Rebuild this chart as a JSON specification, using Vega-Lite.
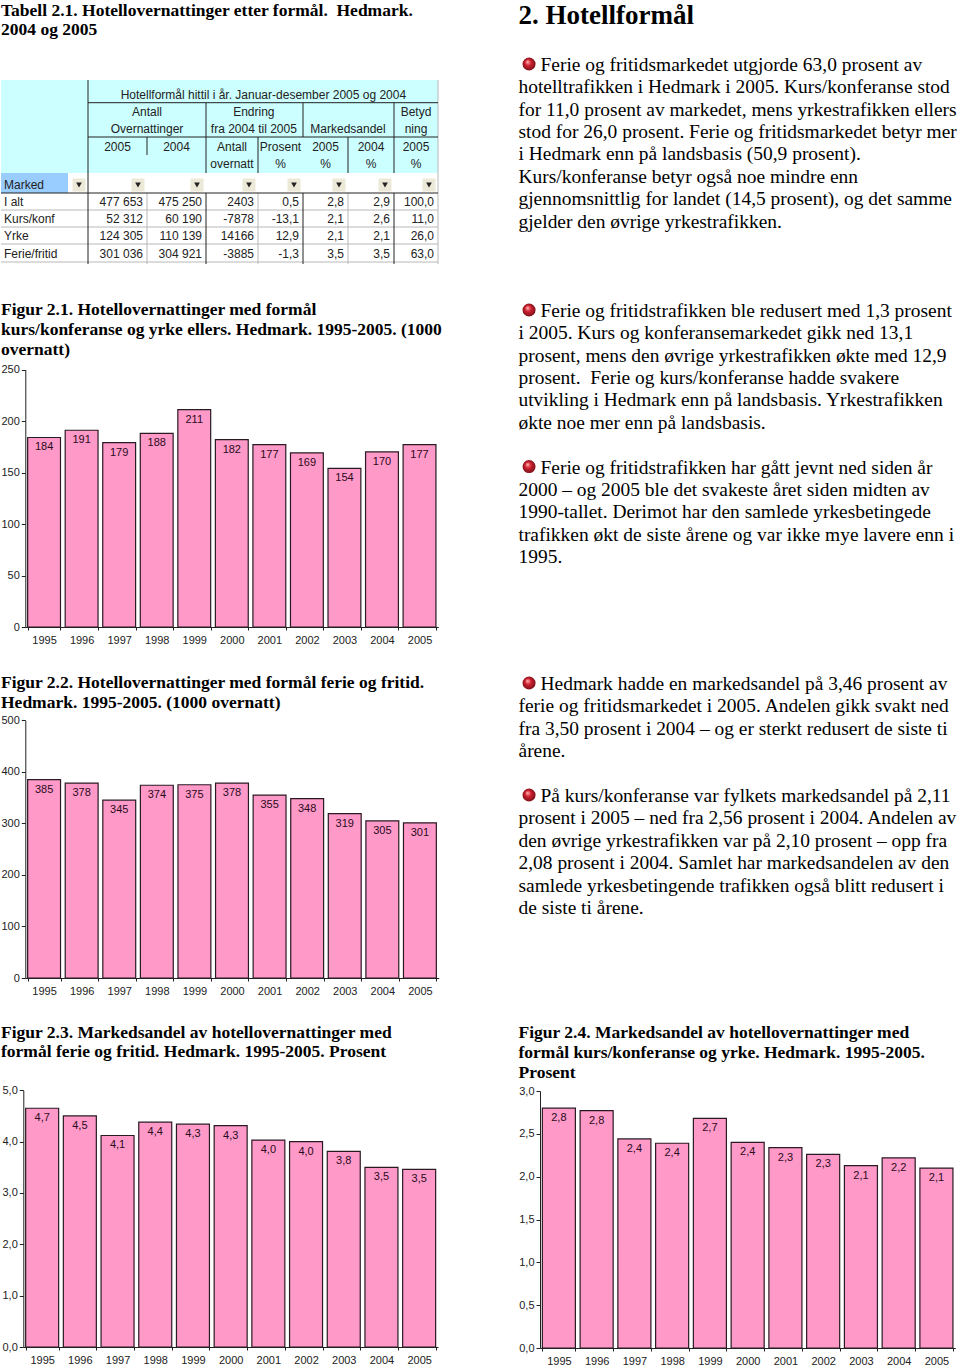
{"$schema":"https://vega.github.io/schema/vega-lite/v6.json","padding":0,"background":"white","spacing":0,
"config":{"view":{"stroke":null},"concat":{"spacing":0},"text":{"font":"Liberation Serif"}},
"datasets":{
"cells":[
{"text":"Hotellformål hittil i år. Januar-desember 2005 og 2004","c":4.12,"r":0.66},
{"text":"Antall","c":2,"r":1.27},{"text":"Overnattinger","c":2,"r":1.77},
{"text":"Endring","c":3.92,"r":1.27},{"text":"fra 2004 til 2005","c":3.92,"r":1.77},
{"text":"Markedsandel","c":6,"r":1.77},{"text":"Betyd","c":7.5,"r":1.27},{"text":"ning","c":7.5,"r":1.77},
{"text":"2005","c":1.5,"r":2.27},{"text":"2004","c":2.5,"r":2.27},{"text":"Antall","c":3.5,"r":2.27},{"text":"overnatt","c":3.5,"r":2.75},
{"text":"Prosent","c":4.5,"r":2.27},{"text":"%","c":4.5,"r":2.75},{"text":"2005","c":5.5,"r":2.27},{"text":"%","c":5.5,"r":2.75},
{"text":"2004","c":6.5,"r":2.27},{"text":"%","c":6.5,"r":2.75},{"text":"2005","c":7.5,"r":2.27},{"text":"%","c":7.5,"r":2.75}],
"left":[{"text":"Marked","r":3.6},{"text":"I alt","r":4.53},{"text":"Kurs/konf","r":5.53},{"text":"Yrke","r":6.53},{"text":"Ferie/fritid","r":7.53}],
"vals":[
{"text":"477 653","c":2,"r":4.53},{"text":"475 250","c":3,"r":4.53},{"text":"2403","c":4,"r":4.53},{"text":"0,5","c":5,"r":4.53},{"text":"2,8","c":6,"r":4.53},{"text":"2,9","c":7,"r":4.53},{"text":"100,0","c":8,"r":4.53},
{"text":"52 312","c":2,"r":5.53},{"text":"60 190","c":3,"r":5.53},{"text":"-7878","c":4,"r":5.53},{"text":"-13,1","c":5,"r":5.53},{"text":"2,1","c":6,"r":5.53},{"text":"2,6","c":7,"r":5.53},{"text":"11,0","c":8,"r":5.53},
{"text":"124 305","c":2,"r":6.53},{"text":"110 139","c":3,"r":6.53},{"text":"14166","c":4,"r":6.53},{"text":"12,9","c":5,"r":6.53},{"text":"2,1","c":6,"r":6.53},{"text":"2,1","c":7,"r":6.53},{"text":"26,0","c":8,"r":6.53},
{"text":"301 036","c":2,"r":7.53},{"text":"304 921","c":3,"r":7.53},{"text":"-3885","c":4,"r":7.53},{"text":"-1,3","c":5,"r":7.53},{"text":"3,5","c":6,"r":7.53},{"text":"3,5","c":7,"r":7.53},{"text":"63,0","c":8,"r":7.53}],
"rects":[{"c0":0,"c1":8,"r0":0,"r1":3,"k":"head"},{"c0":0,"c1":0.77,"r0":3,"r1":4,"k":"field"}],
"lines":[
{"c0":1,"c1":8,"r0":1,"r1":1,"k":"dark"},{"c0":1,"c1":8,"r0":2,"r1":2,"k":"dark"},{"c0":0,"c1":8,"r0":4,"r1":4,"k":"dark"},
{"c0":0,"c1":8,"r0":5,"r1":5,"k":"grey"},{"c0":0,"c1":8,"r0":6,"r1":6,"k":"grey"},{"c0":0,"c1":8,"r0":7,"r1":7,"k":"grey"},{"c0":0,"c1":8,"r0":8,"r1":8,"k":"grey"},
{"c0":1,"c1":1,"r0":0,"r1":9,"k":"dark"},{"c0":8,"c1":8,"r0":0,"r1":9,"k":"grey"},
{"c0":2,"c1":2,"r0":2,"r1":2.5,"k":"dark"},{"c0":3,"c1":3,"r0":1,"r1":3,"k":"dark"},{"c0":4,"c1":4,"r0":2,"r1":3,"k":"dark"},{"c0":5,"c1":5,"r0":1,"r1":2,"k":"dark"},{"c0":6,"c1":6,"r0":2,"r1":3,"k":"dark"},{"c0":7,"c1":7,"r0":1,"r1":3,"k":"dark"},
{"c0":2,"c1":2,"r0":4,"r1":9,"k":"grey"},{"c0":3,"c1":3,"r0":4,"r1":9,"k":"dark"},{"c0":4,"c1":4,"r0":4,"r1":9,"k":"grey"},{"c0":5,"c1":5,"r0":4,"r1":9,"k":"dark"},{"c0":6,"c1":6,"r0":4,"r1":9,"k":"grey"},{"c0":7,"c1":7,"r0":4,"r1":9,"k":"dark"}],
"buttons":[{"c":1,"r":3.6},{"c":2,"r":3.6},{"c":3,"r":3.6},{"c":4,"r":3.6},{"c":5,"r":3.6},{"c":6,"r":3.6},{"c":7,"r":3.6},{"c":8,"r":3.6}]
},
"hconcat":[
{"spacing":0,"bounds":"flush","vconcat":[
{"width":518,"height":80,"data":{"values":[{"line":0,"text":"Tabell 2.1. Hotellovernattinger etter formål. \u00a0Hedmark."},{"line":1,"text":"2004 og 2005"}]},
"mark":{"type":"text","align":"left","baseline":"middle","font":"Liberation Serif","fontWeight":"bold","fontSize":17.5,"dx":1,"color":"#000"},
"encoding":{"x":{"datum":0,"type":"quantitative","scale":{"domain":[0,1]},"axis":null},"y":{"field":"line","type":"quantitative","scale":{"domain":[0,1],"range":[11,30]},"axis":null},"text":{"field":"text"}}},
{"width":518,"height":186,
"encoding":{},
"layer":[
{"data":{"name":"rects"},"mark":{"type":"rect"},"encoding":{"x":{"field":"c0","type":"quantitative","scale":{"domain":[0,1,2,3,4,5,6,7,8],"range":[1,88,147,206,258,303,348,394,438]},"axis":null},"x2":{"field":"c1"},"y":{"field":"r0","type":"quantitative","scale":{"domain":[0,1,2,3,4,5,6,7,8,9],"range":[0,22.7,57,93,113,130,147,164,182,184]},"axis":null},"y2":{"field":"r1"},"color":{"field":"k","type":"nominal","scale":{"domain":["head","field"],"range":["#CCFFFF","#99CCFF"]},"legend":null}}},
{"data":{"name":"lines"},"transform":[{"filter":"datum.k=='grey'"}],"mark":{"type":"rule","color":"#b8b8b8","strokeWidth":1},"encoding":{"x":{"field":"c0","type":"quantitative"},"x2":{"field":"c1"},"y":{"field":"r0","type":"quantitative"},"y2":{"field":"r1"}}},
{"data":{"name":"lines"},"transform":[{"filter":"datum.k=='dark'"}],"mark":{"type":"rule","color":"#222","strokeWidth":1},"encoding":{"x":{"field":"c0","type":"quantitative"},"x2":{"field":"c1"},"y":{"field":"r0","type":"quantitative"},"y2":{"field":"r1"}}},
{"data":{"name":"buttons"},"mark":{"type":"point","shape":"square","filled":true,"size":170,"color":"#ECE9D8","opacity":1,"xOffset":-9},"encoding":{"x":{"field":"c","type":"quantitative"},"y":{"field":"r","type":"quantitative"}}},
{"data":{"name":"buttons"},"mark":{"type":"point","shape":"triangle-down","filled":true,"size":32,"color":"#222","opacity":1,"xOffset":-9},"encoding":{"x":{"field":"c","type":"quantitative"},"y":{"field":"r","type":"quantitative"}}},
{"data":{"name":"cells"},"mark":{"type":"text","align":"center","baseline":"middle","font":"Liberation Sans","fontSize":12,"color":"#222"},"encoding":{"x":{"field":"c","type":"quantitative"},"y":{"field":"r","type":"quantitative"},"text":{"field":"text"}}},
{"data":{"name":"vals"},"mark":{"type":"text","align":"right","baseline":"middle","font":"Liberation Sans","fontSize":12,"dx":-4,"color":"#222"},"encoding":{"x":{"field":"c","type":"quantitative"},"y":{"field":"r","type":"quantitative"},"text":{"field":"text"}}},
{"data":{"name":"left"},"mark":{"type":"text","align":"left","baseline":"middle","font":"Liberation Sans","fontSize":12,"dx":3,"color":"#222"},"encoding":{"x":{"datum":0,"type":"quantitative"},"y":{"field":"r","type":"quantitative"},"text":{"field":"text"}}}
]},
{"width":518,"height":94,"data":{"values":[{"line":0,"text":"Figur 2.1. Hotellovernattinger med formål"},{"line":1,"text":"kurs/konferanse og yrke ellers. Hedmark. 1995-2005. (1000"},{"line":2,"text":"overnatt)"}]},
"mark":{"type":"text","align":"left","baseline":"middle","font":"Liberation Serif","fontWeight":"bold","fontSize":17.5,"dx":1,"color":"#000"},
"encoding":{"x":{"datum":0,"type":"quantitative","scale":{"domain":[0,1]},"axis":null},"y":{"field":"line","type":"quantitative","scale":{"domain":[0,2],"range":[44,84]},"axis":null},"text":{"field":"text"}}},
{"width":518,"height":267,"data":{"values":[{"year":"1995","value":184,"label":"184"},{"year":"1996","value":191,"label":"191"},{"year":"1997","value":179,"label":"179"},{"year":"1998","value":188,"label":"188"},{"year":"1999","value":211,"label":"211"},{"year":"2000","value":182,"label":"182"},{"year":"2001","value":177,"label":"177"},{"year":"2002","value":169,"label":"169"},{"year":"2003","value":154,"label":"154"},{"year":"2004","value":170,"label":"170"},{"year":"2005","value":177,"label":"177"}]},
"encoding":{"x":{"field":"year","type":"ordinal","scale":{"range":[25.3,438.3],"paddingInner":0.125,"paddingOuter":0.0625},"axis":{"title":null,"labelAngle":0,"tickBand":"extent","tickSize":3,"labelPadding":4,"labelFont":"Liberation Sans","labelFontSize":11,"labelColor":"#222","domainColor":"#222","tickColor":"#222","grid":false,"zindex":1}},"y":{"field":"value","type":"quantitative","scale":{"domain":[0,250],"range":[267,9.5],"nice":false},"axis":{"title":null,"values":[0,50,100,150,200,250],"offset":-25.3,"tickSize":4,"labelPadding":2,"labelFont":"Liberation Sans","labelFontSize":11,"labelColor":"#222","domainColor":"#222","tickColor":"#222","grid":false,"labelFlush":false}}},
"layer":[{"mark":{"type":"bar","fill":"#FF99C8","stroke":"#2a1a23","strokeWidth":1.2}},{"mark":{"type":"text","font":"Liberation Sans","fontSize":11,"baseline":"middle","dy":10,"color":"#2a0a20"},"encoding":{"text":{"field":"label"}}}]},
{"width":518,"height":85,"data":{"values":[{"line":0,"text":"Figur 2.2. Hotellovernattinger med formål ferie og fritid."},{"line":1,"text":"Hedmark. 1995-2005. (1000 overnatt)"}]},
"mark":{"type":"text","align":"left","baseline":"middle","font":"Liberation Serif","fontWeight":"bold","fontSize":17.5,"dx":1,"color":"#000"},
"encoding":{"x":{"datum":0,"type":"quantitative","scale":{"domain":[0,1]},"axis":null},"y":{"field":"line","type":"quantitative","scale":{"domain":[0,1],"range":[56,76]},"axis":null},"text":{"field":"text"}}},
{"width":518,"height":266,"data":{"values":[{"year":"1995","value":385,"label":"385"},{"year":"1996","value":378,"label":"378"},{"year":"1997","value":345,"label":"345"},{"year":"1998","value":374,"label":"374"},{"year":"1999","value":375,"label":"375"},{"year":"2000","value":378,"label":"378"},{"year":"2001","value":355,"label":"355"},{"year":"2002","value":348,"label":"348"},{"year":"2003","value":319,"label":"319"},{"year":"2004","value":305,"label":"305"},{"year":"2005","value":301,"label":"301"}]},
"encoding":{"x":{"field":"year","type":"ordinal","scale":{"range":[25.3,438.7],"paddingInner":0.125,"paddingOuter":0.0625},"axis":{"title":null,"labelAngle":0,"tickBand":"extent","tickSize":3,"labelPadding":4,"labelFont":"Liberation Sans","labelFontSize":11,"labelColor":"#222","domainColor":"#222","tickColor":"#222","grid":false,"zindex":1}},"y":{"field":"value","type":"quantitative","scale":{"domain":[0,500],"range":[266,8.3],"nice":false},"axis":{"title":null,"values":[0,100,200,300,400,500],"offset":-25.3,"tickSize":4,"labelPadding":2,"labelFont":"Liberation Sans","labelFontSize":11,"labelColor":"#222","domainColor":"#222","tickColor":"#222","grid":false,"labelFlush":false}}},
"layer":[{"mark":{"type":"bar","fill":"#FF99C8","stroke":"#2a1a23","strokeWidth":1.2}},{"mark":{"type":"text","font":"Liberation Sans","fontSize":11,"baseline":"middle","dy":10,"color":"#2a0a20"},"encoding":{"text":{"field":"label"}}}]},
{"width":518,"height":104,"data":{"values":[{"line":0,"text":"Figur 2.3. Markedsandel av hotellovernattinger med"},{"line":1,"text":"formål ferie og fritid. Hedmark. 1995-2005. Prosent"}]},
"mark":{"type":"text","align":"left","baseline":"middle","font":"Liberation Serif","fontWeight":"bold","fontSize":17.5,"dx":1,"color":"#000"},
"encoding":{"x":{"datum":0,"type":"quantitative","scale":{"domain":[0,1]},"axis":null},"y":{"field":"line","type":"quantitative","scale":{"domain":[0,1],"range":[55,74]},"axis":null},"text":{"field":"text"}}},
{"width":518,"height":265,"data":{"values":[{"year":"1995","value":4.65,"label":"4,7"},{"year":"1996","value":4.5,"label":"4,5"},{"year":"1997","value":4.12,"label":"4,1"},{"year":"1998","value":4.38,"label":"4,4"},{"year":"1999","value":4.34,"label":"4,3"},{"year":"2000","value":4.31,"label":"4,3"},{"year":"2001","value":4.03,"label":"4,0"},{"year":"2002","value":4.0,"label":"4,0"},{"year":"2003","value":3.81,"label":"3,8"},{"year":"2004","value":3.5,"label":"3,5"},{"year":"2005","value":3.46,"label":"3,5"}]},
"encoding":{"x":{"field":"year","type":"ordinal","scale":{"range":[23.3,438],"paddingInner":0.125,"paddingOuter":0.0625},"axis":{"title":null,"labelAngle":0,"tickBand":"extent","tickSize":3,"labelPadding":4,"labelFont":"Liberation Sans","labelFontSize":11,"labelColor":"#222","domainColor":"#222","tickColor":"#222","grid":false,"zindex":1}},"y":{"field":"value","type":"quantitative","scale":{"domain":[0,5],"range":[265,8.3],"nice":false},"axis":{"title":null,"values":[0,1,2,3,4,5],"labelExpr":"replace(format(datum.value,'.1f'),'.',',')","offset":-23.3,"tickSize":4,"labelPadding":2,"labelFont":"Liberation Sans","labelFontSize":11,"labelColor":"#222","domainColor":"#222","tickColor":"#222","grid":false,"labelFlush":false}}},
"layer":[{"mark":{"type":"bar","fill":"#FF99C8","stroke":"#2a1a23","strokeWidth":1.2}},{"mark":{"type":"text","font":"Liberation Sans","fontSize":11,"baseline":"middle","dy":10,"color":"#2a0a20"},"encoding":{"text":{"field":"label"}}}]}
]},
{"spacing":0,"bounds":"flush","vconcat":[
{"width":442,"height":50,"data":{"values":[{"line":0,"text":"2. Hotellformål"}]},
"mark":{"type":"text","align":"left","baseline":"middle","font":"Liberation Serif","fontWeight":"bold","fontSize":27,"dx":0.5,"color":"#000"},
"encoding":{"x":{"datum":0,"type":"quantitative","scale":{"domain":[0,1]},"axis":null},"y":{"field":"line","type":"quantitative","scale":{"domain":[0,1],"range":[16,50]},"axis":null},"text":{"field":"text"}}},
{"width":442,"height":600,"data":{"values":[
{"line":0,"bullet":true,"text":"Ferie og fritidsmarkedet utgjorde 63,0 prosent av"},
{"line":1,"bullet":false,"text":"hotelltrafikken i Hedmark i 2005. Kurs/konferanse stod"},
{"line":2,"bullet":false,"text":"for 11,0 prosent av markedet, mens yrkestrafikken ellers"},
{"line":3,"bullet":false,"text":"stod for 26,0 prosent. Ferie og fritidsmarkedet betyr mer"},
{"line":4,"bullet":false,"text":"i Hedmark enn på landsbasis (50,9 prosent)."},
{"line":5,"bullet":false,"text":"Kurs/konferanse betyr også noe mindre enn"},
{"line":6,"bullet":false,"text":"gjennomsnittlig for landet (14,5 prosent), og det samme"},
{"line":7,"bullet":false,"text":"gjelder den øvrige yrkestrafikken."},
{"line":11,"bullet":true,"text":"Ferie og fritidstrafikken ble redusert med 1,3 prosent"},
{"line":12,"bullet":false,"text":"i 2005. Kurs og konferansemarkedet gikk ned 13,1"},
{"line":13,"bullet":false,"text":"prosent, mens den øvrige yrkestrafikken økte med 12,9"},
{"line":14,"bullet":false,"text":"prosent. \u00a0Ferie og kurs/konferanse hadde svakere"},
{"line":15,"bullet":false,"text":"utvikling i Hedmark enn på landsbasis. Yrkestrafikken"},
{"line":16,"bullet":false,"text":"økte noe mer enn på landsbasis."},
{"line":18,"bullet":true,"text":"Ferie og fritidstrafikken har gått jevnt ned siden år"},
{"line":19,"bullet":false,"text":"2000 – og 2005 ble det svakeste året siden midten av"},
{"line":20,"bullet":false,"text":"1990-tallet. Derimot har den samlede yrkesbetingede"},
{"line":21,"bullet":false,"text":"trafikken økt de siste årene og var ikke mye lavere enn i"},
{"line":22,"bullet":false,"text":"1995."}]},
"encoding":{"y":{"field":"line","type":"quantitative","scale":{"domain":[0,22],"range":[15,507]},"axis":null}},
"layer":[
{"transform":[{"filter":"datum.bullet"}],"mark":{"type":"point","shape":"circle","filled":true,"size":170,"opacity":1,"yOffset":-1,"fill":{"gradient":"radial","x1":0.38,"y1":0.33,"r1":0.02,"x2":0.5,"y2":0.5,"r2":0.55,"stops":[{"offset":0,"color":"#FFB0B0"},{"offset":0.4,"color":"#D02030"},{"offset":1,"color":"#701015"}]}},"encoding":{"x":{"datum":0.025,"type":"quantitative","scale":{"domain":[0,1]},"axis":null}}},
{"transform":[{"filter":"datum.bullet"}],"mark":{"type":"text","align":"left","baseline":"middle","font":"Liberation Serif","fontSize":19.45,"dx":22.5,"color":"#000"},"encoding":{"x":{"datum":0,"type":"quantitative"},"text":{"field":"text"}}},
{"transform":[{"filter":"!datum.bullet"}],"mark":{"type":"text","align":"left","baseline":"middle","font":"Liberation Serif","fontSize":19.45,"dx":0.5,"color":"#000"},"encoding":{"x":{"datum":0,"type":"quantitative"},"text":{"field":"text"}}}
]},
{"width":442,"height":370,"data":{"values":[
{"line":0,"bullet":true,"text":"Hedmark hadde en markedsandel på 3,46 prosent av"},
{"line":1,"bullet":false,"text":"ferie og fritidsmarkedet i 2005. Andelen gikk svakt ned"},
{"line":2,"bullet":false,"text":"fra 3,50 prosent i 2004 – og er sterkt redusert de siste ti"},
{"line":3,"bullet":false,"text":"årene."},
{"line":5,"bullet":true,"text":"På kurs/konferanse var fylkets markedsandel på 2,11"},
{"line":6,"bullet":false,"text":"prosent i 2005 – ned fra 2,56 prosent i 2004. Andelen av"},
{"line":7,"bullet":false,"text":"den øvrige yrkestrafikken var på 2,10 prosent – opp fra"},
{"line":8,"bullet":false,"text":"2,08 prosent i 2004. Samlet har markedsandelen av den"},
{"line":9,"bullet":false,"text":"samlede yrkesbetingende trafikken også blitt redusert i"},
{"line":10,"bullet":false,"text":"de siste ti årene."}]},
"encoding":{"y":{"field":"line","type":"quantitative","scale":{"domain":[0,10],"range":[34,258]},"axis":null}},
"layer":[
{"transform":[{"filter":"datum.bullet"}],"mark":{"type":"point","shape":"circle","filled":true,"size":170,"opacity":1,"yOffset":-1,"fill":{"gradient":"radial","x1":0.38,"y1":0.33,"r1":0.02,"x2":0.5,"y2":0.5,"r2":0.55,"stops":[{"offset":0,"color":"#FFB0B0"},{"offset":0.4,"color":"#D02030"},{"offset":1,"color":"#701015"}]}},"encoding":{"x":{"datum":0.025,"type":"quantitative","scale":{"domain":[0,1]},"axis":null}}},
{"transform":[{"filter":"datum.bullet"}],"mark":{"type":"text","align":"left","baseline":"middle","font":"Liberation Serif","fontSize":19.45,"dx":22.5,"color":"#000"},"encoding":{"x":{"datum":0,"type":"quantitative"},"text":{"field":"text"}}},
{"transform":[{"filter":"!datum.bullet"}],"mark":{"type":"text","align":"left","baseline":"middle","font":"Liberation Serif","fontSize":19.45,"dx":0.5,"color":"#000"},"encoding":{"x":{"datum":0,"type":"quantitative"},"text":{"field":"text"}}}
]},
{"width":442,"height":65,"data":{"values":[{"line":0,"text":"Figur 2.4. Markedsandel av hotellovernattinger med"},{"line":1,"text":"formål kurs/konferanse og yrke. Hedmark. 1995-2005."},{"line":2,"text":"Prosent"}]},
"mark":{"type":"text","align":"left","baseline":"middle","font":"Liberation Serif","fontWeight":"bold","fontSize":17.5,"dx":0.5,"color":"#000"},
"encoding":{"x":{"datum":0,"type":"quantitative","scale":{"domain":[0,1]},"axis":null},"y":{"field":"line","type":"quantitative","scale":{"domain":[0,2],"range":[13,53]},"axis":null},"text":{"field":"text"}}},
{"width":442,"height":263,"data":{"values":[{"year":"1995","value":2.8,"label":"2,8"},{"year":"1996","value":2.77,"label":"2,8"},{"year":"1997","value":2.44,"label":"2,4"},{"year":"1998","value":2.39,"label":"2,4"},{"year":"1999","value":2.68,"label":"2,7"},{"year":"2000","value":2.4,"label":"2,4"},{"year":"2001","value":2.34,"label":"2,3"},{"year":"2002","value":2.26,"label":"2,3"},{"year":"2003","value":2.13,"label":"2,1"},{"year":"2004","value":2.22,"label":"2,2"},{"year":"2005","value":2.1,"label":"2,1"}]},
"encoding":{"x":{"field":"year","type":"ordinal","scale":{"range":[22,437.3],"paddingInner":0.125,"paddingOuter":0.0625},"axis":{"title":null,"labelAngle":0,"tickBand":"extent","tickSize":3,"labelPadding":4,"labelFont":"Liberation Sans","labelFontSize":11,"labelColor":"#222","domainColor":"#222","tickColor":"#222","grid":false,"zindex":1}},"y":{"field":"value","type":"quantitative","scale":{"domain":[0,3],"range":[263,6],"nice":false},"axis":{"title":null,"values":[0,0.5,1,1.5,2,2.5,3],"labelExpr":"replace(format(datum.value,'.1f'),'.',',')","offset":-22,"tickSize":4,"labelPadding":2,"labelFont":"Liberation Sans","labelFontSize":11,"labelColor":"#222","domainColor":"#222","tickColor":"#222","grid":false,"labelFlush":false}}},
"layer":[{"mark":{"type":"bar","fill":"#FF99C8","stroke":"#2a1a23","strokeWidth":1.2}},{"mark":{"type":"text","font":"Liberation Sans","fontSize":11,"baseline":"middle","dy":10,"color":"#2a0a20"},"encoding":{"text":{"field":"label"}}}]}
]}
]}
